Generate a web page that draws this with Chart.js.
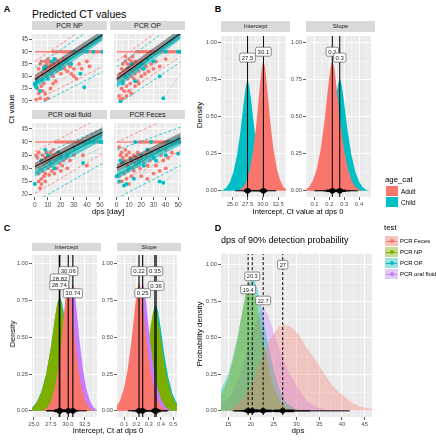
<!DOCTYPE html>
<html lang="en">
<head>
<meta charset="UTF-8" />
<title>CT values and detection</title>
<script src="https://cdn.jsdelivr.net/npm/chart.js@4"></script>
<style>
  body { margin: 0; background: #fff; font-family: "Liberation Sans", Arial, sans-serif; }
  #fig { position: relative; width: 436px; height: 440px; overflow: hidden; background: #fff; }
  canvas { position: absolute; }
  .t { position: absolute; white-space: nowrap; line-height: 1; color: #000; }
  .strip { position: absolute; background: #D9D9D9; color: #1A1A1A; text-align: center; white-space: nowrap; }
  .key { position: absolute; }
</style>
</head>
<body>
<div id="fig"></div>
<script>
const FONT = '"Liberation Sans", Arial, sans-serif';
const SALMON = '#F8766D', TEAL = '#00BFC4', GREEN = '#7CAE00', PURPLE = '#C77CFF';

// ---------- Panel A data (dps, Ct) ----------
const NEG_CT = 40;
const FIT_X = [0, 52];

const npAdultPts = [[1,20.5],[2,25],[3,23],[3,33],[4,21],[4,35],[5,26],[5,36],[6,24],[6,29],[6,31],[7,27],[7,34],[8,20.5],[8,23],[8,33],[8,36],[9,30],[9,35],[10,21],[10,29],[10,34],[10,37],[11,32],[11,36],[12,25],[12,33],[12,35],[13,31],[13,34],[14,27],[14,30],[14,36],[15,33],[15,35],[16,28],[16,34],[16,37],[17,32],[18,34],[18,36],[19,33],[20,31],[20,35],[21,36],[22,34],[22,37],[23,33],[24,36],[25,32],[26,35],[27,34],[28,31],[30,30],[30,33],[32,29],[34,35],[36,33],[40,36],[42,34]];
const npChildPts = [[0,27],[0,26.5],[1,25.5],[2,28],[4,24],[5,28.5],[7,33],[8,34],[10,29],[13,36],[15,37],[18,35],[20,33],[22,36],[25,37],[28,35],[35,31],[38,25.5],[30,40],[40,40],[45,40],[52,40]];
const npRowX = [14,16,18,20,22,24,26,28,30,32,34,36,38,40,42,44,46,48,50,52];
const npTrajA = [[[2,25],[30,40]],[[6,29],[40,40]],[[10,34],[24,40]],[[12,25],[45,38]],[[5,36],[20,40]],[[15,33],[35,40]],[[8,23],[38,35]],[[20,31],[50,40]]];
const npTrajC = [[[0,27],[35,31]],[[38,25.5],[52,36]],[[5,28.5],[30,40]]];
const npMean = [28.7, 46.9], npAdult = [29.4, 46.8], npChild = [26.4, 46.4];
const npGrayLo = [27.4, 45.0], npGrayHi = [30.6, 48.8], npTealLo = [25.0, 44.6], npTealHi = [27.7, 48.0];
const npAdultHi = [36.0, 54.5], npChildHi = [33.6, 52.5], npAdultLo = [20.1, 33.9], npChildLo = [17.7, 31.8];

const opAdultPts = [[2,22],[3,20.5],[3,31],[4,33],[4,25],[5,35],[5,28],[6,24],[6,32],[7,30],[7,36],[8,26],[8,33],[9,29],[9,35],[10,31],[10,34],[10,37],[11,27],[11,33],[12,30],[12,36],[13,32],[13,35],[14,29],[14,34],[15,31],[15,36],[16,33],[17,28],[17,35],[18,32],[19,34],[20,30],[20,36],[21,33],[22,35],[23,31],[24,34],[25,37],[26,32],[28,35],[30,33],[32,36],[35,34],[40,37],[5,21],[8,22],[10,24],[12,23],[15,26],[18,27],[7,38],[13,38]];
const opChildPts = [[3,19.5],[5,27],[7,30],[10,33],[12,35],[15,28],[18,34],[20,35],[22,33],[25,37],[30,36],[35,30],[38,21],[40,40],[50,40],[52,40]];
const opRowX = [16,18,20,22,24,26,28,30,32,34,36,38,40,42,44,46,48,50,52];
const opTrajA = [[[3,31],[30,40]],[[8,26],[40,38]],[[10,37],[20,40]],[[14,29],[45,40]],[[5,21],[35,33]],[[17,28],[50,39]],[[6,32],[28,40]]];
const opTrajC = [[[38,21],[52,31]],[[15,28],[40,40]],[[3,19.5],[25,30]]];
const opMean = [28.8, 47.5], opAdult = [29.5, 47.4], opChild = [26.5, 47.0];
const opGrayLo = [27.5, 45.6], opGrayHi = [30.7, 49.4], opTealLo = [25.1, 45.1], opTealHi = [27.8, 48.6];
const opAdultHi = [36.2, 55.0], opChildHi = [33.8, 53.0], opAdultLo = [21.0, 38.0], opChildLo = [18.3, 35.8];

const oralAdultPts = [[1,35],[2,34],[3,36],[3,25],[4,22.5],[4,30],[5,33],[5,24],[6,29],[6,35],[7,27],[7,31],[8,28],[8,34],[9,32],[9,36],[10,30],[10,35],[11,27.5],[11,33],[12,31],[12,36],[13,29],[13,34],[14,32],[15,35],[15,28],[16,33],[17,30],[18,34],[19,32],[20,35],[21,31],[22,33],[24,34],[25,30],[27,33],[30,35],[3,28],[5,26],[8,25],[37,35],[40,31],[14,37],[20,29]];
const oralChildPts = [[0,24],[5,33],[8,37],[10,35],[12,32],[15,30],[18,36],[20,34],[25,35],[30,38],[37,32],[38,40],[42,40],[45,40],[50,40],[52,40]];
const oralRowX = [16,18,20,22,24,26,28,30,32,34,36,38,40,42,44,46,48,50,52];
const oralTrajA = [[[3,25],[30,37]],[[7,27],[40,38]],[[10,30],[45,40]],[[5,33],[25,40]],[[12,31],[50,40]],[[20,29],[52,38]]];
const oralTrajC = [[[0,24],[40,37]],[[15,30],[52,38]],[[37,32],[50,36]]];
const oralMean = [30.7, 43.7], oralAdult = [31.0, 43.6], oralChild = [28.2, 42.6];
const oralGrayLo = [29.4, 41.6], oralGrayHi = [32.1, 45.6], oralTealLo = [26.8, 40.6], oralTealHi = [29.4, 44.4];
const oralAdultHi = [36.3, 49.7], oralChildHi = [34.1, 45.0], oralAdultLo = [20.4, 35.5], oralChildLo = [17.2, 31.9];

const fecesAdultPts = [[2,38],[3,35],[4,36],[5,34],[6,33],[7,37],[8,35],[9,31],[10,36],[11,34],[12,33],[13,30],[14,35],[15,32],[16,31],[17,36],[18,33],[19,30],[20,34],[22,32],[24,35],[25,31],[27,33],[28,36],[30,34],[32,31],[34,37],[36,35],[38,33],[40,37],[42,34],[45,36],[2,27],[4,25],[6,28],[8,26],[10,24],[12,27],[14,29],[20,27],[25,26],[30,28],[35,29],[40,30],[4,32],[9,29],[16,34]];
const fecesChildPts = [[0,27],[2,25],[3,33],[5,32],[6,23.5],[8,24],[10,30],[12,33],[14,26],[15,40],[18,32],[20,35],[22,31],[25,37],[28,40],[30,34],[32,33],[35,25],[38,24.5],[40,35],[42,40],[45,40],[50,35.5],[52,40]];
const fecesRowX = [18,20,22,24,26,28,30,32,34,36,38,40,42,44,46,48,50,52];
const fecesTrajA = [[[2,27],[35,38]],[[6,28],[45,40]],[[10,24],[40,34]],[[13,30],[50,40]],[[4,25],[30,33]],[[20,27],[52,37]],[[9,31],[40,40]]];
const fecesTrajC = [[[0,27],[40,35]],[[6,23.5],[35,33]],[[38,24.5],[52,30]]];
const fecesMean = [30.1, 41.5], fecesAdult = [30.3, 41.6], fecesChild = [27.3, 40.8];
const fecesGrayLo = [28.8, 39.6], fecesGrayHi = [31.5, 43.5], fecesTealLo = [25.9, 38.8], fecesTealHi = [28.6, 42.6];
const fecesAdultHi = [39.9, 51.3], fecesChildHi = [36.9, 45.6], fecesAdultLo = [24.0, 36.6], fecesChildLo = [18.6, 31.1];

// ---------- Panel B data (age_cat) ----------
const bIntChildX = [22.9,23.48,24.05,24.63,25.2,25.78,26.35,26.64,26.93,27.21,27.5,27.79,28.08,28.36,28.65,29.23,29.8,30.38,30.95,31.53,32.1];
const bIntChildY = [0,0.006,0.022,0.06,0.13,0.24,0.405,0.51,0.615,0.705,0.75,0.705,0.615,0.51,0.405,0.24,0.13,0.06,0.022,0.006,0];
const bIntAdultX = [25.7,26.25,26.8,27.35,27.9,28.45,29.0,29.28,29.55,29.83,30.1,30.38,30.65,30.93,31.2,31.75,32.3,32.85,33.4,33.95,34.5];
const bIntAdultY = [0,0.007,0.026,0.07,0.15,0.28,0.475,0.6,0.72,0.83,0.88,0.83,0.72,0.6,0.475,0.28,0.15,0.07,0.026,0.007,0];
const bSlopeAdultX = [0.012,0.038,0.064,0.09,0.116,0.142,0.168,0.181,0.194,0.207,0.22,0.233,0.246,0.259,0.272,0.298,0.324,0.35,0.376,0.402,0.428];
const bSlopeAdultY = [0,0.007,0.026,0.07,0.15,0.28,0.475,0.6,0.72,0.83,0.88,0.83,0.72,0.6,0.475,0.28,0.15,0.07,0.026,0.007,0];
const bSlopeChildX = [0.062,0.088,0.114,0.14,0.166,0.192,0.218,0.231,0.244,0.257,0.27,0.283,0.296,0.309,0.322,0.348,0.374,0.40,0.426,0.452,0.478];
const bSlopeChildY = [0,0.006,0.023,0.061,0.13,0.243,0.41,0.517,0.623,0.714,0.76,0.714,0.623,0.517,0.41,0.243,0.13,0.061,0.023,0.006,0];
const bIntMeans = [27.5, 30.1], bSlopeMeans = [0.22, 0.27];
// [thin lo, thick lo, mean, thick hi, thin hi]
const bIntChildRange = [25.5, 26.9, 27.5, 28.1, 29.5];
const bIntAdultRange = [28.3, 29.5, 30.1, 30.7, 32.2];
const bSlopeAdultRange = [0.10, 0.18, 0.22, 0.26, 0.34];
const bSlopeChildRange = [0.16, 0.23, 0.27, 0.31, 0.39];
const bIntLabels = [[27.5, 0.90, '27.5'], [30.1, 0.94, '30.1']];
const bSlopeLabels = [[0.22, 0.94, '0.2'], [0.27, 0.90, '0.3']];

// ---------- Panel C data (test) ----------
const cIntNpX = [23.54,24.19,24.84,25.49,26.14,26.79,27.44,27.77,28.09,28.42,28.74,29.07,29.39,29.72,30.04,30.69,31.34,31.99,32.64,33.29,33.94];
const cIntNpY = [0,0.006,0.023,0.062,0.131,0.246,0.416,0.524,0.631,0.724,0.77,0.724,0.631,0.524,0.416,0.246,0.131,0.062,0.023,0.006,0];
const cIntOpX = [23.42,24.1,24.77,25.45,26.12,26.8,27.47,27.81,28.15,28.48,28.82,29.16,29.5,29.83,30.17,30.85,31.52,32.2,32.87,33.55,34.22];
const cIntOpY = [0,0.006,0.023,0.062,0.133,0.25,0.42,0.53,0.64,0.733,0.78,0.733,0.64,0.53,0.42,0.25,0.133,0.062,0.023,0.006,0];
const cIntFecesX = [26.06,26.56,27.06,27.56,28.06,28.56,29.06,29.31,29.56,29.81,30.06,30.31,30.56,30.81,31.06,31.56,32.06,32.56,33.06,33.56,34.06];
const cIntFecesY = [0,0.007,0.026,0.07,0.15,0.28,0.475,0.6,0.72,0.83,0.88,0.83,0.72,0.6,0.475,0.28,0.15,0.07,0.026,0.007,0];
const cIntOralX = [26.74,27.24,27.74,28.24,28.74,29.24,29.74,29.99,30.24,30.49,30.74,30.99,31.24,31.49,31.74,32.24,32.74,33.24,33.74,34.24,34.74];
const cIntOralY = [0,0.007,0.026,0.07,0.148,0.278,0.47,0.59,0.713,0.818,0.87,0.818,0.713,0.59,0.47,0.278,0.148,0.07,0.026,0.007,0];
const cSlopeFecesX = [-0.028,0.003,0.034,0.065,0.096,0.127,0.158,0.1735,0.189,0.2045,0.22,0.2355,0.251,0.2665,0.282,0.313,0.344,0.375,0.406,0.437,0.468];
const cSlopeFecesY = [0,0.007,0.026,0.07,0.149,0.28,0.4725,0.595,0.7175,0.8225,0.875,0.8225,0.7175,0.595,0.4725,0.28,0.149,0.07,0.026,0.007,0];
const cSlopeOralX = [0.002,0.033,0.064,0.095,0.126,0.157,0.188,0.2035,0.219,0.2345,0.25,0.2655,0.281,0.2965,0.312,0.343,0.374,0.405,0.436,0.467,0.498];
const cSlopeOralY = [0,0.007,0.026,0.07,0.148,0.278,0.47,0.59,0.713,0.818,0.87,0.818,0.713,0.59,0.47,0.278,0.148,0.07,0.026,0.007,0];
const cSlopeNpX = [0.086,0.119,0.152,0.185,0.218,0.251,0.284,0.3005,0.317,0.3335,0.35,0.3665,0.383,0.3995,0.416,0.449,0.482,0.515,0.548,0.581,0.614];
const cSlopeNpY = [0,0.006,0.021,0.057,0.121,0.227,0.383,0.483,0.582,0.667,0.71,0.667,0.582,0.483,0.383,0.227,0.121,0.057,0.021,0.006,0];
const cSlopeOpX = [0.096,0.129,0.162,0.195,0.228,0.261,0.294,0.3105,0.327,0.3435,0.36,0.3765,0.393,0.4095,0.426,0.459,0.492,0.525,0.558,0.591,0.624];
const cSlopeOpY = [0,0.006,0.022,0.058,0.122,0.23,0.389,0.49,0.59,0.677,0.72,0.677,0.59,0.49,0.389,0.23,0.122,0.058,0.022,0.006,0];
const cIntMeans = [28.74, 28.82, 30.06, 30.74];
const cSlopeMeans = [0.22, 0.25, 0.35, 0.36];
const cIntRanges = [[26.8,28.0,28.74,29.5,30.7],[26.9,28.1,28.82,29.6,30.8],[28.6,29.5,30.06,30.6,31.6],[29.3,30.2,30.74,31.3,32.8]];
const cSlopeRanges = [[0.13,0.19,0.22,0.25,0.31],[0.16,0.22,0.25,0.28,0.34],[0.25,0.32,0.35,0.39,0.45],[0.26,0.33,0.36,0.40,0.46]];
const cIntLabels = [[30.06,0.95,'30.06'],[28.82,0.90,'28.82'],[28.74,0.855,'28.74'],[30.74,0.80,'30.74']];
const cSlopeLabels = [[0.22,0.95,'0.22'],[0.35,0.95,'0.35'],[0.36,0.85,'0.36'],[0.25,0.80,'0.25']];

// ---------- Panel D data (dps of 90% detection) ----------
const dNpX = [13.4,15,16,17,18,19,19.6,20.5,21.5,22.5,23.5,24.5,25.5,26.5,28,30,32];
const dNpY = [0.10,0.22,0.34,0.48,0.66,0.82,0.88,0.84,0.70,0.52,0.36,0.22,0.12,0.06,0.02,0.005,0];
const dOpX = [13.4,15,16,17,18,19,20.2,21,22,23,24,25,26,27,28,30,32];
const dOpY = [0.14,0.25,0.36,0.50,0.66,0.82,0.92,0.88,0.76,0.58,0.42,0.28,0.17,0.09,0.05,0.01,0];
const dOralX = [13.4,16,18,20,21.5,22.7,24,25,26,27,28,29,30,31,32,33,35,38,41];
const dOralY = [0.03,0.12,0.28,0.50,0.65,0.72,0.64,0.54,0.44,0.36,0.29,0.23,0.17,0.12,0.08,0.05,0.02,0.005,0];
const dFecesX = [15,16,18,20,22,24,26,27.5,29,30.6,32,34,36,38,40,42,44,46.7];
const dFecesY = [0,0.02,0.07,0.17,0.33,0.48,0.57,0.59,0.57,0.52,0.44,0.36,0.26,0.17,0.11,0.06,0.03,0.01];
const dMeans = [19.4, 20.3, 22.7, 27];
const dRanges = [[16,18.5,19.4,20.5,26],[16.5,19,20.3,21.5,27],[18,21,22.7,24.5,33],[20.5,25,27,29.5,41.7]];
const dLabels = [[27,1.0,'27'],[20.3,0.92,'20.3'],[19.4,0.83,'19.4'],[22.7,0.755,'22.7']];

// ---------- helpers ----------
const fig = document.getElementById('fig');
const seg = (xs, ys) => xs.map((x, i) => ({ x: x, y: ys[i] }));
const pts = arr => arr.map(p => ({ x: p[0], y: p[1] }));

function txt(s, x, y, size, extra) {
  const d = document.createElement('div');
  d.className = 't';
  d.textContent = s;
  d.style.left = x + 'px';
  d.style.top = y + 'px';
  d.style.fontSize = size + 'px';
  d.style.transform = 'translate(-50%,-50%)' + (extra && extra.rot ? ' rotate(-90deg)' : '');
  if (extra && extra.left) d.style.transform = 'translate(0,-50%)';
  if (extra && extra.bold) d.style.fontWeight = 'bold';
  fig.appendChild(d);
}
function strip(s, x, y, w, h, size) {
  const d = document.createElement('div');
  d.className = 'strip';
  Object.assign(d.style, { left: x + 'px', top: y + 'px', width: w + 'px', height: h + 'px', lineHeight: h + 'px', fontSize: size + 'px' });
  d.textContent = s;
  fig.appendChild(d);
}

const panelBg = {
  id: 'panelBg',
  beforeDraw(ch) {
    const a = ch.chartArea, c = ch.ctx;
    c.save();
    c.fillStyle = '#EBEBEB';
    c.fillRect(a.left, a.top, a.right - a.left, a.bottom - a.top);
    c.restore();
  }
};
function boxLabels(items, size) {
  return {
    id: 'boxLabels',
    afterDatasetsDraw(ch) {
      const c = ch.ctx, xs = ch.scales.x, ys = ch.scales.y;
      items.forEach(it => {
        const px = xs.getPixelForValue(it[0]), py = ys.getPixelForValue(it[1]);
        c.save();
        c.font = size + 'px ' + FONT;
        const w = c.measureText(it[2]).width + 4, h = size + 3;
        c.beginPath();
        c.roundRect(px - w / 2, py - h / 2, w, h, 1.5);
        c.fillStyle = '#fff'; c.fill();
        c.lineWidth = 0.6; c.strokeStyle = '#444'; c.stroke();
        c.fillStyle = '#222'; c.textAlign = 'center'; c.textBaseline = 'middle';
        c.fillText(it[2], px, py + 0.5);
        c.restore();
      });
    }
  };
}

function axis(range, major, minor, size, isY, fmt, show, fs) {
  const ticks = major.map(v => ({ value: v, mj: true }))
    .concat(minor.map(v => ({ value: v, mj: false })))
    .sort((a, b) => a.value - b.value);
  return {
    type: 'linear', position: isY ? 'left' : 'bottom', bounds: 'data',
    min: range[0], max: range[1],
    afterBuildTicks: s => { s.ticks = ticks.map(t => ({ value: t.value, mj: t.mj })); },
    afterFit: s => {
      if (isY) s.width = size; else s.height = size;
      s.paddingLeft = s.paddingRight = s.paddingTop = s.paddingBottom = 0;
    },
    border: { display: false },
    grid: {
      drawTicks: show, tickLength: 3, color: '#FFFFFF',
      lineWidth: c => (c.tick && c.tick.mj) ? 0.9 : 0.4,
      tickColor: c => (c.tick && c.tick.mj) ? '#333333' : 'rgba(0,0,0,0)',
      tickWidth: 0.8
    },
    ticks: {
      display: show, autoSkip: false, maxRotation: 0, minRotation: 0, padding: 1,
      color: '#4D4D4D', font: { family: FONT, size: fs },
      callback: (v, i, t) => t[i].mj ? fmt(v) : ''
    }
  };
}

function facet(cfg) {
  const L = cfg.left || 0, B = cfg.bottom || 0;
  const cv = document.createElement('canvas');
  cv.width = cfg.w + L; cv.height = cfg.h + B;
  Object.assign(cv.style, { left: (cfg.x - L) + 'px', top: cfg.y + 'px', width: (cfg.w + L) + 'px', height: (cfg.h + B) + 'px' });
  fig.appendChild(cv);
  cfg.sets.forEach((d, i) => { d.order = -i; });
  return new Chart(cv, {
    type: 'scatter',
    data: { datasets: cfg.sets },
    options: {
      responsive: false, animation: false, devicePixelRatio: 1, events: [],
      layout: { padding: 0 },
      plugins: { legend: { display: false }, tooltip: { enabled: false } },
      scales: {
        x: axis(cfg.xr, cfg.xt, cfg.xm, B, false, cfg.xf, B > 0, cfg.fs),
        y: axis(cfg.yr, cfg.yt, cfg.ym, L, true, cfg.yf, L > 0, cfg.fs)
      }
    },
    plugins: [panelBg, boxLabels(cfg.labels || [], cfg.ls || 6)]
  });
}

const lineSet = (data, color, w, dash) => ({ type: 'line', data: data, borderColor: color, borderWidth: w, borderDash: dash || [], pointRadius: 0, fill: false, clip: 0 });
const dotSet = (data, color, r) => ({ type: 'scatter', data: data, backgroundColor: color, borderWidth: 0, pointRadius: r, showLine: false });
const densSet = (xs, ys, color) => ({ type: 'line', data: seg(xs, ys), borderWidth: 0, borderColor: 'rgba(0,0,0,0)', pointRadius: 0, fill: 'origin', backgroundColor: color, clip: 0 });
const vline = (v, w, dash) => lineSet([{ x: v, y: -0.2 }, { x: v, y: 1.3 }], '#000', w, dash);
function rangeSets(r) {
  return [
    lineSet([{ x: r[0], y: 0 }, { x: r[4], y: 0 }], '#000', 1),
    lineSet([{ x: r[1], y: 0 }, { x: r[3], y: 0 }], '#000', 2.6),
    dotSet([{ x: r[2], y: 0 }], '#000', 2.8)
  ];
}

function aSets(f) {
  const s = [];
  f.trajA.forEach(t => s.push(lineSet(pts(t), 'rgba(248,118,109,0.35)', 0.5)));
  f.trajC.forEach(t => s.push(lineSet(pts(t), 'rgba(0,191,196,0.35)', 0.5)));
  s.push(lineSet(seg(FIT_X, [NEG_CT, NEG_CT]), 'rgba(248,118,109,0.85)', 1.6));
  s.push(dotSet(f.rowX.map(x => ({ x: x, y: NEG_CT })), SALMON, 1.8));
  s.push(dotSet(pts(f.adultPts), SALMON, 1.9));
  s.push(dotSet(pts(f.childPts), TEAL, 2.0));
  s.push(lineSet(seg(FIT_X, f.adultHi), SALMON, 0.8, [3, 2]));
  s.push(lineSet(seg(FIT_X, f.adultLo), SALMON, 0.8, [3, 2]));
  s.push(lineSet(seg(FIT_X, f.childHi), TEAL, 0.8, [3, 2]));
  s.push(lineSet(seg(FIT_X, f.childLo), TEAL, 0.8, [3, 2]));
  s.push({ type: 'line', data: seg(FIT_X, f.grayLo), borderWidth: 0, pointRadius: 0, fill: false });
  s.push({ type: 'line', data: seg(FIT_X, f.grayHi), borderWidth: 0, pointRadius: 0, fill: '-1', backgroundColor: 'rgba(60,60,60,0.5)' });
  s.push({ type: 'line', data: seg(FIT_X, f.tealLo), borderWidth: 0, pointRadius: 0, fill: false });
  s.push({ type: 'line', data: seg(FIT_X, f.tealHi), borderWidth: 0, pointRadius: 0, fill: '-1', backgroundColor: 'rgba(0,191,196,0.6)' });
  s.push(lineSet(seg(FIT_X, f.child), '#00A5AA', 1));
  s.push(lineSet(seg(FIT_X, f.adult), SALMON, 1));
  s.push(lineSet(seg(FIT_X, f.mean), '#1a1a1a', 1.2));
  return s;
}

// ---------- Panel A ----------
const aX = { xr: [-2.2, 52.4], xt: [0, 10, 20, 30, 40, 50], xm: [5, 15, 25, 35, 45], xf: v => String(v) };
const aY = { yr: [19.1, 47.2], yt: [20, 25, 30, 35, 40, 45], ym: [22.5, 27.5, 32.5, 37.5, 42.5], yf: v => String(v) };
const aFacets = [
  { name: 'PCR NP', x: 32, y: 30, h: 77, left: 10, bottom: 0, f: { trajA: npTrajA, trajC: npTrajC, rowX: npRowX, adultPts: npAdultPts, childPts: npChildPts, adultHi: npAdultHi, adultLo: npAdultLo, childHi: npChildHi, childLo: npChildLo, grayLo: npGrayLo, grayHi: npGrayHi, tealLo: npTealLo, tealHi: npTealHi, child: npChild, adult: npAdult, mean: npMean } },
  { name: 'PCR OP', x: 110, y: 30, h: 77, left: 0, bottom: 0, f: { trajA: opTrajA, trajC: opTrajC, rowX: opRowX, adultPts: opAdultPts, childPts: opChildPts, adultHi: opAdultHi, adultLo: opAdultLo, childHi: opChildHi, childLo: opChildLo, grayLo: opGrayLo, grayHi: opGrayHi, tealLo: opTealLo, tealHi: opTealHi, child: opChild, adult: opAdult, mean: opMean } },
  { name: 'PCR oral fluid', x: 32, y: 119, h: 78, left: 10, bottom: 12, f: { trajA: oralTrajA, trajC: oralTrajC, rowX: oralRowX, adultPts: oralAdultPts, childPts: oralChildPts, adultHi: oralAdultHi, adultLo: oralAdultLo, childHi: oralChildHi, childLo: oralChildLo, grayLo: oralGrayLo, grayHi: oralGrayHi, tealLo: oralTealLo, tealHi: oralTealHi, child: oralChild, adult: oralAdult, mean: oralMean } },
  { name: 'PCR Feces', x: 110, y: 119, h: 78, left: 0, bottom: 12, f: { trajA: fecesTrajA, trajC: fecesTrajC, rowX: fecesRowX, adultPts: fecesAdultPts, childPts: fecesChildPts, adultHi: fecesAdultHi, adultLo: fecesAdultLo, childHi: fecesChildHi, childLo: fecesChildLo, grayLo: fecesGrayLo, grayHi: fecesGrayHi, tealLo: fecesTealLo, tealHi: fecesTealHi, child: fecesChild, adult: fecesAdult, mean: fecesMean } }
];
aFacets.forEach(a => {
  strip(a.name, a.x, a.y - 9, 75, 9, 7);
  facet(Object.assign({ x: a.x, y: a.y, w: 75, h: a.h, left: a.left, bottom: a.bottom, fs: 6.6, sets: aSets(a.f) }, aX, aY));
});

// ---------- Panel B ----------
const densY = { yr: [-0.042, 1.046], yt: [0, 0.25, 0.5, 0.75, 1], ym: [0.125, 0.375, 0.625, 0.875], yf: v => v.toFixed(2) };
strip('Intercept', 221, 21, 69, 11, 6);
strip('Slope', 306, 21, 69, 11, 6);
facet(Object.assign({
  x: 221, y: 32, w: 69, h: 165, left: 17, bottom: 11, fs: 5.8, ls: 6,
  xr: [23.15, 33.8], xt: [25, 27.5, 30, 32.5], xm: [23.75, 26.25, 28.75, 31.25, 33.75], xf: v => v.toFixed(1),
  labels: bIntLabels,
  sets: [densSet(bIntChildX, bIntChildY, TEAL), densSet(bIntAdultX, bIntAdultY, SALMON),
    vline(bIntMeans[0], 1), vline(bIntMeans[1], 1)]
    .concat(rangeSets(bIntChildRange), rangeSets(bIntAdultRange))
}, densY));
facet(Object.assign({
  x: 306, y: 32, w: 69, h: 165, left: 17, bottom: 11, fs: 5.8, ls: 6,
  xr: [0.043, 0.48], xt: [0.1, 0.2, 0.3, 0.4], xm: [0.05, 0.15, 0.25, 0.35, 0.45], xf: v => v.toFixed(1),
  labels: bSlopeLabels,
  sets: [densSet(bSlopeChildX, bSlopeChildY, TEAL), densSet(bSlopeAdultX, bSlopeAdultY, SALMON),
    vline(bSlopeMeans[0], 1), vline(bSlopeMeans[1], 1)]
    .concat(rangeSets(bSlopeChildRange), rangeSets(bSlopeAdultRange))
}, densY));

// ---------- Panel C ----------
const densYc = { yr: [-0.042, 1.06], yt: [0, 0.25, 0.5, 0.75, 1], ym: [0.125, 0.375, 0.625, 0.875], yf: v => v.toFixed(2) };
strip('Intercept', 32, 243, 69, 8, 6);
strip('Slope', 117, 243, 64, 8, 6);
facet(Object.assign({
  x: 32, y: 251, w: 69, h: 166, left: 17, bottom: 12, fs: 5.8, ls: 6,
  xr: [24.72, 34.3], xt: [25, 27.5, 30, 32.5], xm: [26.25, 28.75, 31.25, 33.75], xf: v => v.toFixed(1),
  labels: cIntLabels,
  sets: [densSet(cIntOralX, cIntOralY, PURPLE), densSet(cIntOpX, cIntOpY, TEAL), densSet(cIntNpX, cIntNpY, GREEN), densSet(cIntFecesX, cIntFecesY, SALMON)]
    .concat(cIntMeans.map(m => vline(m, 1.1)))
    .concat(...cIntRanges.map(rangeSets))
}, densYc));
facet(Object.assign({
  x: 117, y: 251, w: 64, h: 166, left: 17, bottom: 12, fs: 5.8, ls: 6,
  xr: [0.04, 0.531], xt: [0.1, 0.2, 0.3, 0.4, 0.5], xm: [0.05, 0.15, 0.25, 0.35, 0.45], xf: v => v.toFixed(1),
  labels: cSlopeLabels,
  sets: [densSet(cSlopeOpX, cSlopeOpY, TEAL), densSet(cSlopeNpX, cSlopeNpY, GREEN), densSet(cSlopeOralX, cSlopeOralY, PURPLE), densSet(cSlopeFecesX, cSlopeFecesY, SALMON)]
    .concat(cSlopeMeans.map(m => vline(m, 1.1)))
    .concat(...cSlopeRanges.map(rangeSets))
}, densYc));

// ---------- Panel D ----------
facet({
  x: 221, y: 250, w: 155, h: 167, left: 17, bottom: 12, fs: 5.8, ls: 5.6,
  xr: [13.44, 46.6], xt: [15, 20, 25, 30, 35, 40, 45], xm: [17.5, 22.5, 27.5, 32.5, 37.5, 42.5], xf: v => String(v),
  yr: [-0.042, 1.073], yt: [0, 0.25, 0.5, 0.75, 1], ym: [0.125, 0.375, 0.625, 0.875], yf: v => v.toFixed(2),
  labels: dLabels,
  sets: [densSet(dOralX, dOralY, 'rgba(199,124,255,0.35)'), densSet(dOpX, dOpY, 'rgba(0,191,196,0.4)'),
    densSet(dNpX, dNpY, 'rgba(124,174,0,0.42)'), densSet(dFecesX, dFecesY, 'rgba(248,118,109,0.32)')]
    .concat(dMeans.map(m => vline(m, 1, [3, 2])))
    .concat(...dRanges.map(rangeSets))
});

// ---------- texts ----------
txt('A', 7, 9, 9, { bold: true });
txt('B', 218, 9, 9, { bold: true });
txt('C', 7, 228, 9, { bold: true });
txt('D', 218, 228, 9, { bold: true });
txt('Predicted CT values', 32, 14, 10.5, { left: true });
txt('Ct value', 12, 109, 8, { rot: true });
txt('dps [day]', 108, 212, 8);
txt('Density', 200, 115, 8, { rot: true });
txt('Intercept, Ct value at dps 0', 298, 212, 7.6);
txt('Density', 13, 334, 8, { rot: true });
txt('Intercept, Ct at dps 0', 108, 431, 7.6);
txt('Probability density', 200, 334, 8, { rot: true });
txt('dps', 298, 431, 8);
txt('dps of 90% detection probability', 221, 240, 9, { left: true });

// legend B
txt('age_cat', 385, 180, 7.8, { left: true });
[['Adult', SALMON, 186], ['Child', TEAL, 197]].forEach(k => {
  const d = document.createElement('div');
  d.className = 'key';
  Object.assign(d.style, { left: '386px', top: k[2] + 'px', width: '12px', height: '10px', background: k[1] });
  fig.appendChild(d);
  txt(k[0], 401, k[2] + 5.5, 6.4, { left: true });
});

// legend D
txt('test', 384, 228, 7.8, { left: true });
[['PCR Feces', '#F6C3BE', SALMON, 236], ['PCR NP', '#C5DB93', GREEN, 247], ['PCR OP', '#9BE2E2', TEAL, 258], ['PCR oral fluid', '#E3CBF4', PURPLE, 269]].forEach(k => {
  const d = document.createElement('div');
  d.className = 'key';
  Object.assign(d.style, { left: '385px', top: k[3] + 'px', width: '13px', height: '10px', background: k[1] });
  const ln = document.createElement('div');
  Object.assign(ln.style, { position: 'absolute', left: '1px', top: '4.5px', width: '11px', height: '1px', background: k[2] });
  const dot = document.createElement('div');
  Object.assign(dot.style, { position: 'absolute', left: '4.5px', top: '3px', width: '4px', height: '4px', borderRadius: '2px', background: k[2] });
  d.appendChild(ln); d.appendChild(dot);
  fig.appendChild(d);
  txt(k[0], 400, k[3] + 5.5, 5.9, { left: true });
});
</script>
</body>
</html>
